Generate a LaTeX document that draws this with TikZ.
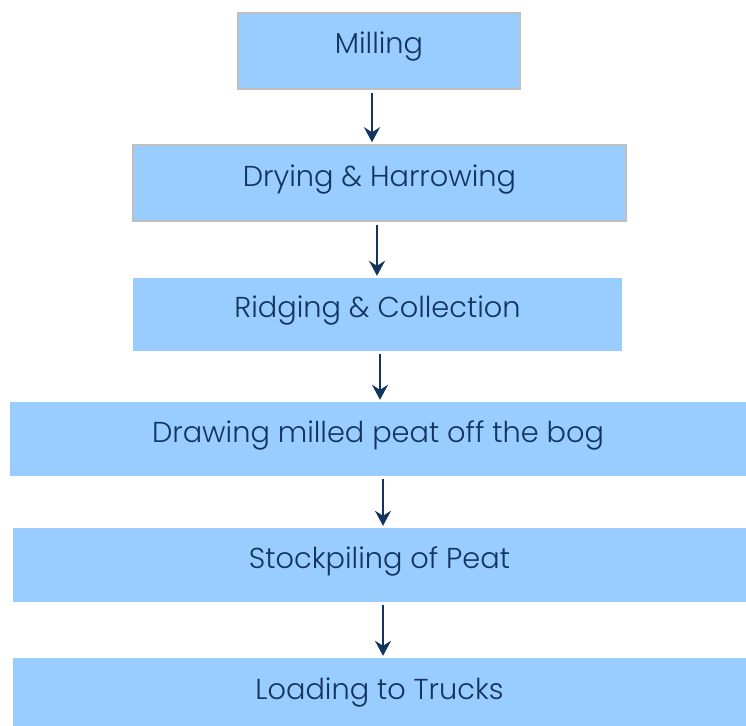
\documentclass[tikz,border=0pt]{standalone}
\usepackage{fontspec}
\setmainfont{Poppins Light}
\usetikzlibrary{arrows.meta}
\definecolor{boxblue}{RGB}{153,204,255}
\definecolor{navy}{RGB}{18,52,94}
\definecolor{edgegray}{RGB}{191,191,191}

\begin{document}
\begin{tikzpicture}[x=1pt,y=-1pt,
	stage/.style={rectangle,fill=boxblue,inner sep=0pt,text=navy,
		font=\fontsize{28.8}{33}\selectfont,text height=20pt,text depth=14pt},
	framed/.style={draw=edgegray,line width=1.5pt},
	flow/.style={-{Stealth[length=15pt,width=16pt,inset=5pt]},draw=navy,line width=2.5pt,
		shorten <=3pt,shorten >=2pt},
	]
	\clip (0,0) rectangle (746,725);
	\node[stage,framed,minimum width=282pt,minimum height=76pt] (mill) at (379,51) {Milling};
	\node[stage,framed,minimum width=493pt,minimum height=76pt] (dry) at (379.5,183) {Drying \& Harrowing};
	\node[stage,minimum width=489pt,minimum height=73pt] (ridge) at (377.5,314.5) {Ridging \& Collection};
	\node[stage,minimum width=736pt,minimum height=74pt] (draw) at (378,439) {Drawing milled peat off the bog};
	\node[stage,minimum width=733pt,minimum height=74pt] (stock) at (379.5,565) {Stockpiling of Peat};
	\node[stage,minimum width=733pt,minimum height=76pt] (load) at (379.5,696) {Loading to Trucks};

	\draw[flow] ([xshift=-7pt]mill.south) -- ([xshift=-7pt]mill.south |- dry.north);
	\draw[flow] ([xshift=-2.5pt]dry.south) -- ([xshift=-2.5pt]dry.south |- ridge.north);
	\draw[flow] ([xshift=2.5pt]ridge.south) -- ([xshift=2.5pt]ridge.south |- draw.north);
	\draw[flow] ([xshift=5pt]draw.south) -- ([xshift=5pt]draw.south |- stock.north);
	\draw[flow] ([xshift=3.5pt]stock.south) -- ([xshift=3.5pt]stock.south |- load.north);
\end{tikzpicture}
\end{document}
